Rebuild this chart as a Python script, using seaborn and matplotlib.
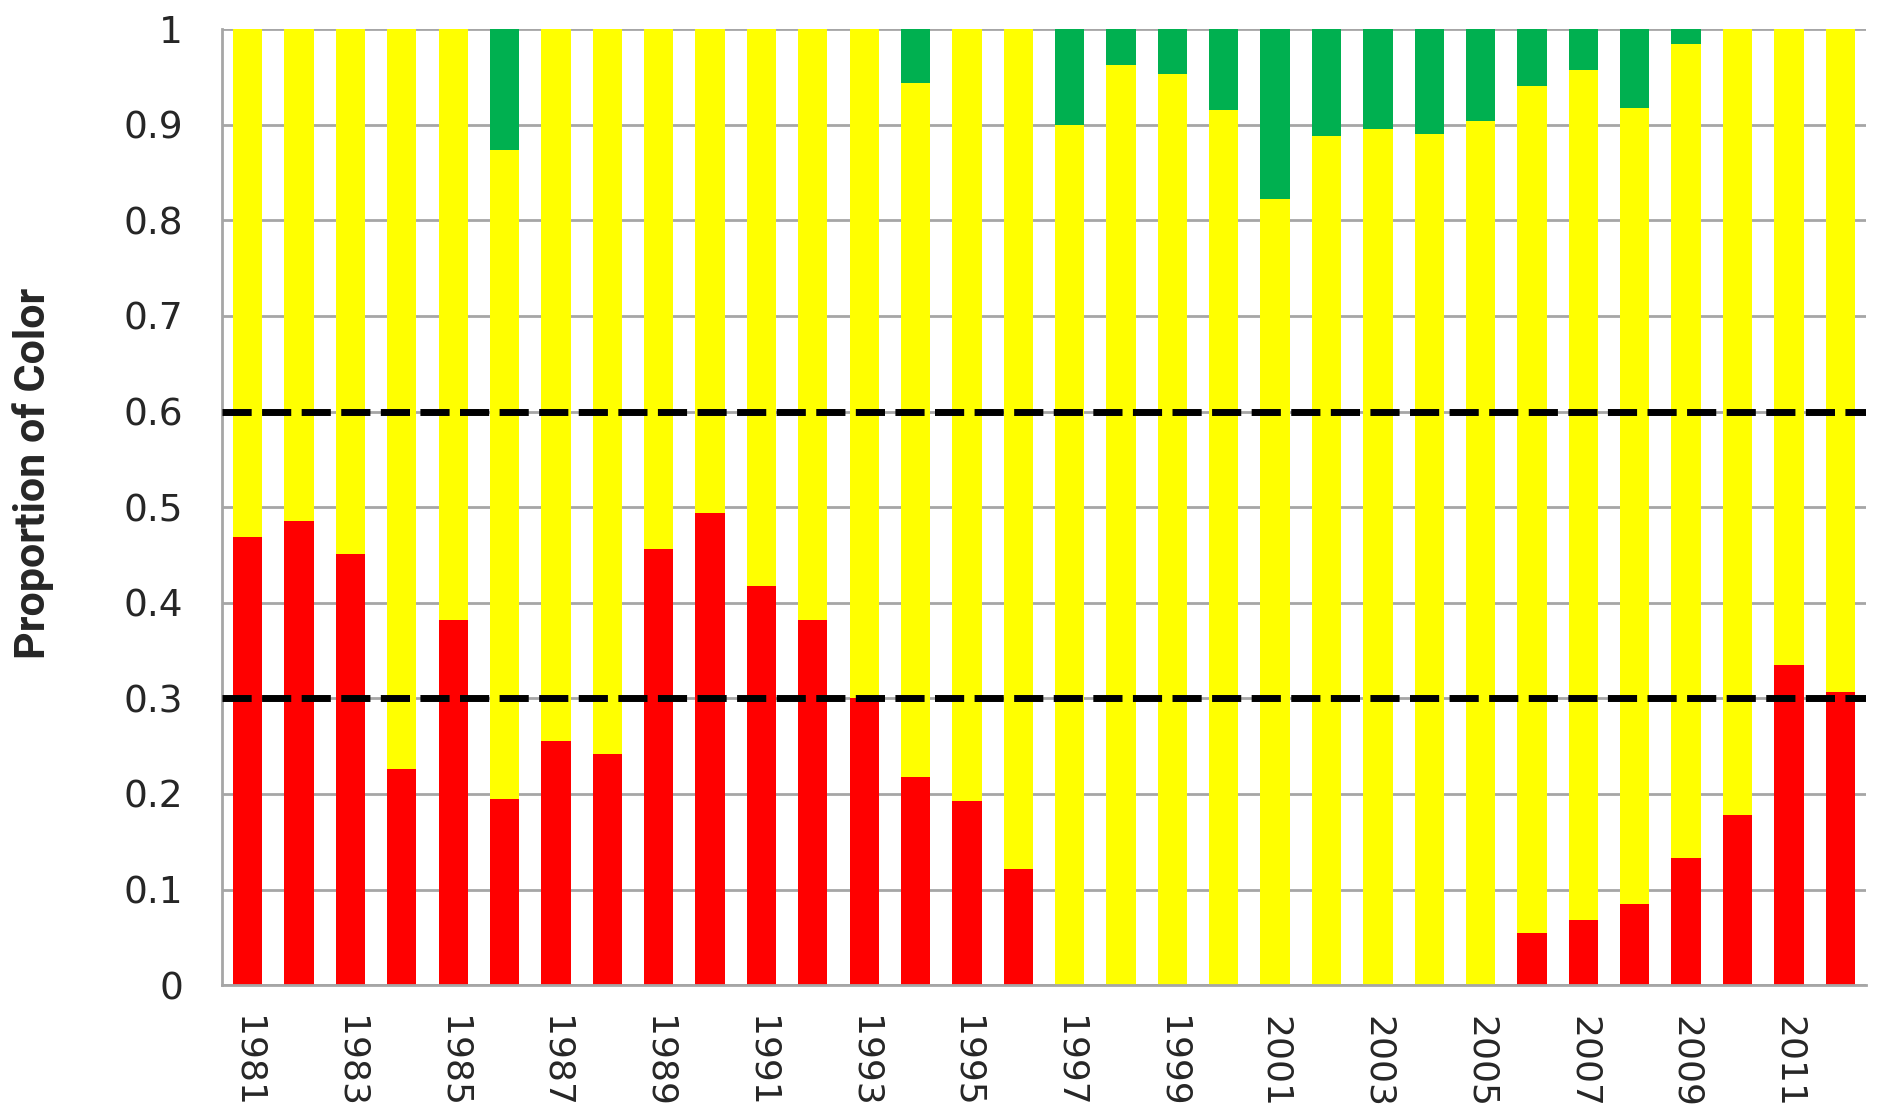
import matplotlib
matplotlib.use("Agg")
import matplotlib.pyplot as plt
import seaborn as sns
import pandas as pd
import numpy as np

# ========== Data ==========
years = [str(y) for y in range(1981, 2013)]
red = [0.469, 0.485, 0.451, 0.226, 0.382, 0.195, 0.255, 0.242, 0.456, 0.494,
       0.417, 0.382, 0.300, 0.218, 0.193, 0.122, 0.0, 0.0, 0.0, 0.0,
       0.0, 0.0, 0.0, 0.0, 0.0, 0.055, 0.068, 0.085, 0.133, 0.178,
       0.335, 0.307]
green = [0.0, 0.0, 0.0, 0.0, 0.0, 0.126, 0.0, 0.0, 0.0, 0.0,
         0.0, 0.0, 0.0, 0.056, 0.0, 0.0, 0.100, 0.038, 0.047, 0.085,
         0.178, 0.112, 0.105, 0.110, 0.096, 0.060, 0.043, 0.083, 0.016, 0.0,
         0.0, 0.0]
thresholds = [0.3, 0.6]
y_ticks = [0, 0.1, 0.2, 0.3, 0.4, 0.5, 0.6, 0.7, 0.8, 0.9, 1]
y_tick_labels = ["0", "0.1", "0.2", "0.3", "0.4", "0.5", "0.6", "0.7", "0.8", "0.9", "1"]

df = pd.DataFrame({"year": years, "red": red, "green": green})
df["yellow"] = 1 - df["red"] - df["green"]
df["top_yellow"] = df["red"] + df["yellow"]
df["top_green"] = df["top_yellow"] + df["green"]

# ========== Plot ==========
sns.set_style("white")
plt.rcParams["font.family"] = ["DejaVu Sans"]

fig = plt.figure(figsize=(18.81, 11.17), dpi=100)
ax = fig.add_axes([0.118, 0.118, 0.874, 0.856])

bar_w = 0.57
sns.barplot(data=df, x="year", y="top_green", color="#00b050", width=bar_w,
            saturation=1, linewidth=0, ax=ax, order=years, zorder=2)
sns.barplot(data=df, x="year", y="top_yellow", color="#ffff00", width=bar_w,
            saturation=1, linewidth=0, ax=ax, order=years, zorder=2)
sns.barplot(data=df, x="year", y="red", color="#ff0000", width=bar_w,
            saturation=1, linewidth=0, ax=ax, order=years, zorder=2)

for t in thresholds:
    ax.axhline(t, color="black", lw=5, ls=(0, (4.2, 1.5)), zorder=3)

ax.set_ylim(0, 1)
ax.set_xlim(-0.5, len(years) - 0.5)
ax.set_yticks(y_ticks)
ax.set_yticklabels(y_tick_labels, fontsize=27)
ax.yaxis.grid(True, color="#a6a6a6", lw=2, zorder=0)
ax.set_axisbelow(True)

# category labels every other year, tick marks between categories
ax.set_xticks(range(0, len(years), 2))
ax.set_xticklabels(years[::2], rotation=-90, fontsize=26)
ax.set_xticks(np.arange(-0.5, len(years), 1), minor=True)
ax.tick_params(axis="x", which="major", length=0, pad=22)
ax.tick_params(axis="x", which="minor", length=10, width=2, color="#a6a6a6")
ax.tick_params(axis="y", length=10, width=2, color="#a6a6a6", pad=18)

ax.set_xlabel("")
ax.set_ylabel("Proportion of Color", fontsize=31, fontweight="bold",
              family=["Roboto", "DejaVu Sans"])
ax.yaxis.set_label_coords(-0.102, 0.535)

for side in ["top", "right"]:
    ax.spines[side].set_visible(False)
for side in ["left", "bottom"]:
    ax.spines[side].set_color("#a6a6a6")
    ax.spines[side].set_linewidth(2)

fig.savefig("out.png", dpi=100)
plt.close(fig)
